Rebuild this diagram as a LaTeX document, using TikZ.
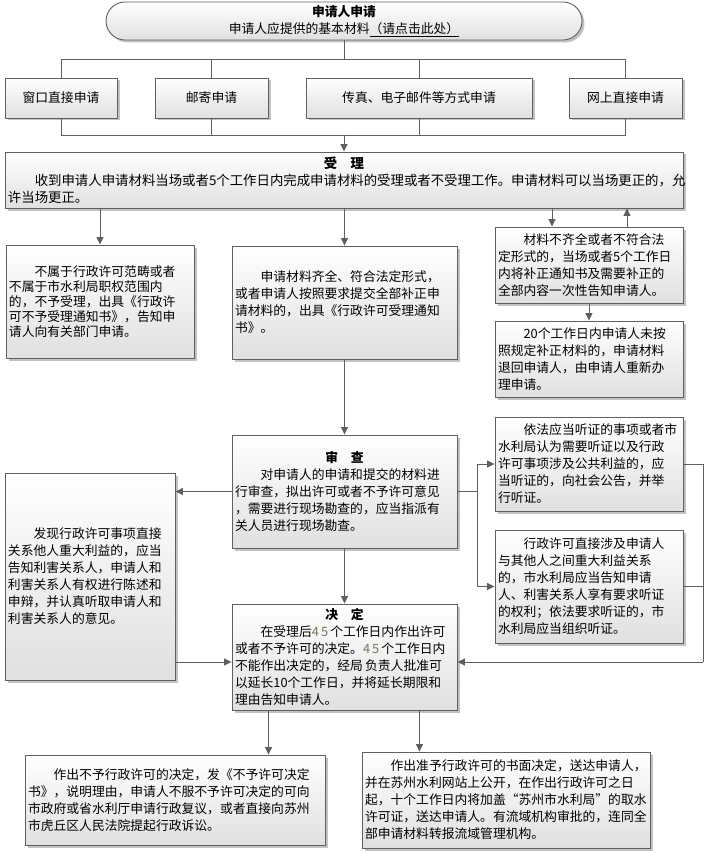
\documentclass[tikz,border=0pt]{standalone}
\usepackage{fontspec}
\setmainfont{Noto Sans CJK SC}
\usepackage{tikz}
\usetikzlibrary{arrows.meta}
\usetikzlibrary{shadows}

\definecolor{edgegray}{RGB}{95,95,95}
\definecolor{boxbottom}{RGB}{224,224,224}
\definecolor{numgray}{RGB}{125,112,88}

\tikzset{
  flowbox/.style={draw=edgegray, line width=0.9pt, top color=white, bottom color=boxbottom,
    drop shadow={shadow xshift=2.5pt, shadow yshift=-2.5pt, fill=black!40, opacity=0.6},
    inner xsep=3pt, inner ysep=2pt, align=left, font=\fontsize{12.8}{17}\selectfont},
  wayline/.style={draw=edgegray, line width=0.9pt},
  wayarrow/.style={wayline, -{Triangle[length=7.5pt,width=7pt]}},
}

\begin{document}
\begin{tikzpicture}[x=1pt,y=-1pt]
      \useasboundingbox (0,0) rectangle (704,853);

      % Start: application
      \node[flowbox, rounded corners=19pt, align=center, text width=470pt, minimum height=38pt]
        (apply) at (344,21) {\textbf{申请人申请}\\申请人应提供的基本材料\underline{（请点击此处）}};

      % Ways of applying
      \node[flowbox, align=center, text width=106pt, minimum height=40pt] (window) at (61,98) {窗口直接申请};
      \node[flowbox, align=center, text width=107pt, minimum height=40pt] (post) at (211.5,98) {邮寄申请};
      \node[flowbox, align=center, text width=220pt, minimum height=40pt] (fax) at (419,98) {传真、电子邮件等方式申请};
      \node[flowbox, align=center, text width=107pt, minimum height=40pt] (online) at (625.5,98) {网上直接申请};

      % Acceptance
      \node[flowbox, text width=672pt, minimum height=56pt, font=\fontsize{13.4}{17}\selectfont] (accept) at (344,180)
        {\hfill\textbf{受\quad 理}\hfill\null\\
         　　收到申请人申请材料当场或者5个工作日内完成申请材料的受理或者不受理工作。申请材料可以当场更正的，允\\
         许当场更正。};

      \node[flowbox, text width=182pt, minimum height=113pt, font=\fontsize{12.8}{15}\selectfont]
        (reject) at (100,301.5)
        {　　不属于行政许可范畴或者\\
         不属于市水利局职权范围内\\
         的，不予受理，出具《行政许\\
         可不予受理通知书》，告知申\\
         请人向有关部门申请。};

      \node[flowbox, text width=219pt, minimum height=113pt] (complete) at (344.5,302.5)
        {　　申请材料齐全、符合法定形式，\\
         或者申请人按照要求提交全部补正申\\
         请材料的，出具《行政许可受理通知\\
         书》。};

      \node[flowbox, text width=182pt, minimum height=76pt] (amend) at (589,265)
        {　　材料不齐全或者不符合法\\
         定形式的，当场或者5个工作日\\
         内将补正通知书及需要补正的\\
         全部内容一次性告知申请人。};

      \node[flowbox, text width=182pt, minimum height=76pt] (return) at (589,359)
        {　　20个工作日内申请人未按\\
         照规定补正材料的，申请材料\\
         退回申请人，由申请人重新办\\
         理申请。};

      % Review
      \node[flowbox, text width=219pt, minimum height=113pt] (review) at (344.5,491.5)
        {\hfill\textbf{审\quad 查}\hfill\null\\
         　　对申请人的申请和提交的材料进\\
         行审查，拟出许可或者不予许可意见\\
         ，需要进行现场勘查的，应当指派有\\
         关人员进行现场勘查。};

      \node[flowbox, text width=164pt, minimum height=207pt] (discover) at (90,576.5)
        {　　发现行政许可事项直接\\
         关系他人重大利益的，应当\\
         告知利害关系人，申请人和\\
         利害关系人有权进行陈述和\\
         申辩，并认真听取申请人和\\
         利害关系人的意见。};

      \node[flowbox, text width=182pt, minimum height=94pt] (hearpub) at (589,464)
        {　　依法应当听证的事项或者市\\
         水利局认为需要听证以及行政\\
         许可事项涉及公共利益的，应\\
         当听证的，向社会公告，并举\\
         行听证。};

      \node[flowbox, text width=182pt, minimum height=113pt] (hearright) at (589,586.5)
        {　　行政许可直接涉及申请人\\
         与其他人之间重大利益关系\\
         的，市水利局应当告知申请\\
         人、利害关系人享有要求听证\\
         的权利；依法要求听证的，市\\
         水利局应当组织听证。};

      % Decision
      \node[flowbox, text width=219pt, minimum height=106pt] (decide) at (344.5,657)
        {\hfill\textbf{决\quad 定}\hfill\null\\
         　　在受理后{\color{numgray}4\,5}\,个工作日内作出许可\\
         或者不予许可的决定。{\color{numgray}4\,5}\,个工作日内\\
         不能作出决定的，经局\,负责人批准可\\
         以延长10个工作日，并将延长期限和\\
         理由告知申请人。};

      \node[flowbox, text width=294pt, minimum height=90pt] (deny) at (175,800)
        {　　作出不予行政许可的决定，发《不予许可决定\\
         书》，说明理由，申请人不服不予许可决定的可向\\
         市政府或省水利厅申请行政复议，或者直接向苏州\\
         市虎丘区人民法院提起行政诉讼。};

      \node[flowbox, text width=282pt, minimum height=96pt] (grant) at (506,800)
        {　　作出准予行政许可的书面决定，送达申请人，\\
         并在苏州水利网站上公开，在作出行政许可之日\\
         起，十个工作日内将加盖“苏州市水利局”的取水\\
         许可证，送达申请人。有流域机构审批的，连同全\\
         部申请材料转报流域管理机构。};

      % Connectors
      \coordinate (split) at (344,59);
      \coordinate (merge) at (344,135);
      \draw[wayline] (apply) -- (split);
      \foreach \way in {window,post,fax,online}
        \draw[wayline] (split) -| (\way.north);
      \foreach \way in {window,post,fax,online}
        \draw[wayline] (\way.south) |- (merge);
      \draw[wayarrow] (merge) -- (accept);

      \draw[wayarrow] (accept.south -| reject.north) -- (reject.north);
      \draw[wayarrow] (accept.south -| complete.north) -- (complete.north);
      \draw[wayarrow] ([xshift=-37pt]amend.north |- accept.south) -- ([xshift=-37pt]amend.north);
      \draw[wayarrow] ([xshift=38pt]amend.north) -- ([xshift=38pt]amend.north |- accept.south);
      \draw[wayarrow] (amend) -- (return);

      \draw[wayarrow] (complete) -- (review);
      \draw[wayarrow] (review.west) -- (review.west -| discover.east);
      \coordinate (fork) at (477,491.5);
      \draw[wayline] (review.east) -- (fork);
      \draw[wayarrow] (fork) |- (hearpub.west);
      \draw[wayarrow] (fork) |- (hearright.west);

      \coordinate (rail) at (703,662);
      \draw[wayline] (hearpub.east) -| (rail);
      \draw[wayline] (hearright.east) -| (rail);
      \draw[wayarrow] (rail) -- (rail -| decide.east);
      \draw[wayarrow] (rail -| discover.east) -- (rail -| decide.west);
      \draw[wayarrow] (review) -- (decide);

      \draw[wayarrow] ([xshift=-76pt]decide.south) -- ([xshift=-76pt]decide.south |- deny.north);
      \draw[wayarrow] ([xshift=75pt]decide.south) -- ([xshift=75pt]decide.south |- grant.north);
\end{tikzpicture}
\end{document}
